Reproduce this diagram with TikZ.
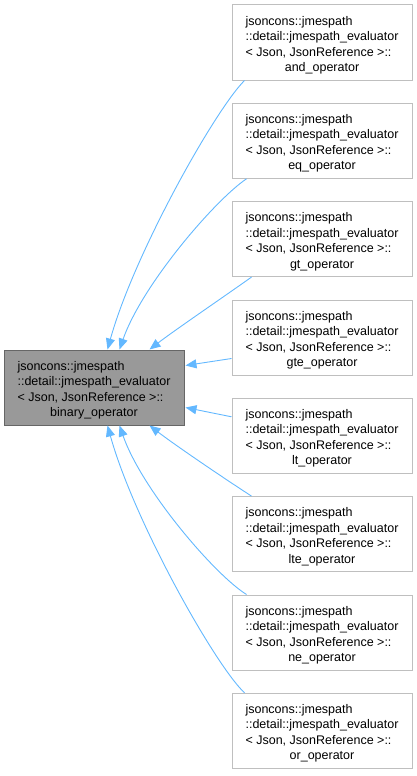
\documentclass[tikz,border=0pt]{standalone}
\usepackage{fontspec}
\setmainfont{Liberation Sans}
\usetikzlibrary{arrows.meta,calc}
\definecolor{edgeblue}{HTML}{63B8FF}
\definecolor{basefill}{HTML}{999999}
\definecolor{basedraw}{HTML}{666666}
\definecolor{boxdraw}{HTML}{BFBFBF}
\newcommand{\clslabel}[1]{\begin{tabular}{@{}l@{}}\rule{0pt}{16.4pt}jsoncons::jmespath\\::detail::jmespath\_evaluator\\< Json, JsonReference >::\\\multicolumn{1}{@{}c@{}}{#1}\end{tabular}}
\begin{document}
\begin{tikzpicture}[x=1pt,y=-1pt,
  box/.style={rectangle, minimum width=180pt, minimum height=75pt, inner sep=0pt,
    font=\fontsize{12.5}{15.5}\selectfont, line width=1pt},
  cls/.style={box, draw=boxdraw, fill=white},
  basecls/.style={box, draw=basedraw, fill=basefill},
  edge/.style={draw=edgeblue, line width=0.9pt, -{Triangle[length=11pt,width=9pt]}}]
\useasboundingbox (0,0) rectangle (417,776);
\node[basecls] (base) at (94,387.5) {\clslabel{binary\_operator}};
\node[cls] (c1) at (322,42.5) {\clslabel{and\_operator}};
\node[cls] (c2) at (322,140.8) {\clslabel{eq\_operator}};
\node[cls] (c3) at (322,239.1) {\clslabel{gt\_operator}};
\node[cls] (c4) at (322,337.5) {\clslabel{gte\_operator}};
\node[cls] (c5) at (322,435.8) {\clslabel{lt\_operator}};
\node[cls] (c6) at (322,534.1) {\clslabel{lte\_operator}};
\node[cls] (c7) at (322,632.5) {\clslabel{ne\_operator}};
\node[cls] (c8) at (322,730.8) {\clslabel{or\_operator}};
\draw[edge] ($(c1.south west)+(13,0)$) .. controls (215,110) and (134,254) .. ($(base.north west)+(104,0)$);
\draw[edge] ($(c2.south west)+(15,0)$) .. controls (215,200) and (142,285) .. ($(base.north west)+(116,0)$);
\draw[edge] ($(c3.south west)+(20,0)$) .. controls (222,298) and (175,330) .. ($(base.north west)+(146,0)$);
\draw[edge] ($(c4.south west)+(0,-17)$) -- ($(base.north east)+(1,16)$);
\draw[edge] ($(c5.north west)+(0,19)$) -- ($(base.south east)+(1,-18)$);
\draw[edge] ($(c6.north west)+(20,0)$) .. controls (222,477) and (175,445) .. ($(base.south west)+(146,0)$);
\draw[edge] ($(c7.north west)+(15,0)$) .. controls (215,575) and (142,490) .. ($(base.south west)+(116,0)$);
\draw[edge] ($(c8.north west)+(13,0)$) .. controls (215,665) and (134,521) .. ($(base.south west)+(104,0)$);
\end{tikzpicture}
\end{document}
